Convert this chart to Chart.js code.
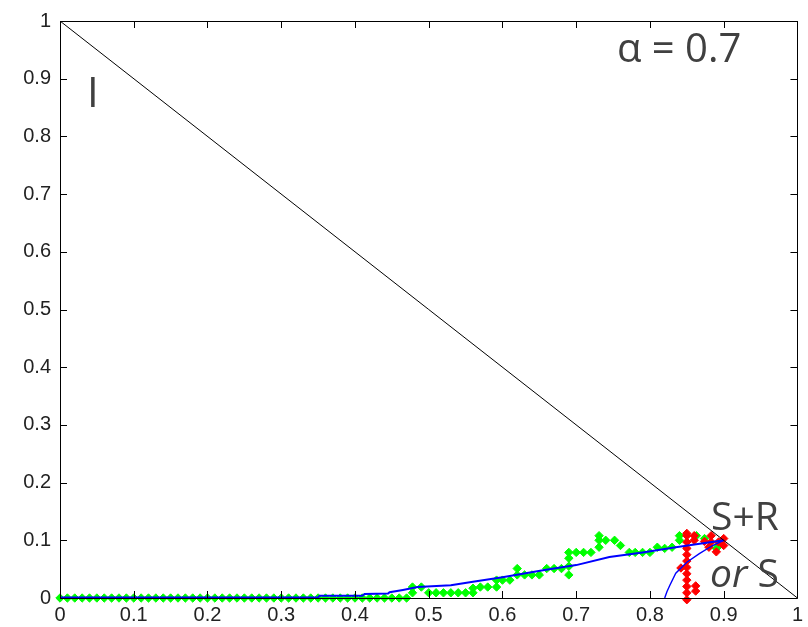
<!DOCTYPE html>
<html>
<head>
<meta charset="utf-8">
<script src="https://cdn.jsdelivr.net/npm/chart.js@4/dist/chart.umd.min.js"></script>
<style>
  html, body { margin: 0; padding: 0; background: #fff; }
  #wrap { position: relative; width: 808px; height: 627px; }
  .ann { position: absolute; font-family: "Open Sans", sans-serif; color: #404040; line-height: 1; white-space: nowrap; }
</style>
</head>
<body>
<div id="wrap">
  <canvas id="c" width="808" height="627"></canvas>
  <div class="ann" style="left:617px; top:27px; font-size:40px;">α = 0.7</div>
  <div class="ann" style="left:87px; top:70px; font-size:42px;">I</div>
  <div class="ann" style="left:711px; top:495px; font-size:39px;">S+R</div>
  <div class="ann" style="left:710px; top:552px; font-size:39px;"><i>or</i> S</div>
</div>
<script>
// ---- tick labels ----
const tickValues = [0, 0.1, 0.2, 0.3, 0.4, 0.5, 0.6, 0.7, 0.8, 0.9, 1];
const tickLabels = ["0", "0.1", "0.2", "0.3", "0.4", "0.5", "0.6", "0.7", "0.8", "0.9", "1"];

// ---- diagonal reference line ----
const diagX = [0, 1];
const diagY = [1, 0];

// ---- green markers ----
const greenX = [0,0.01,0.02,0.03,0.04,0.05,0.06,0.07,0.08,0.09,0.10,0.11,0.12,0.13,0.14,0.15,0.16,0.17,0.18,0.19,
  0.20,0.21,0.22,0.23,0.24,0.25,0.26,0.27,0.28,0.29,0.30,0.31,0.32,0.33,0.34,0.35,0.36,0.37,0.38,0.39,
  0.40,0.41,0.42,0.43,0.44,0.45,0.46,0.47,
  0.478,0.478,0.49,0.50,0.51,0.52,0.53,0.54,0.55,0.56,0.56,0.57,0.58,0.592,0.592,0.60,0.61,
  0.62,0.62,0.63,0.64,0.65,0.66,0.67,0.68,0.69,0.69,0.69,0.69,0.70,0.71,0.72,
  0.731,0.731,0.731,0.74,0.752,0.76,0.772,0.78,0.79,0.80,0.81,0.82,0.83,0.84,0.84,0.863,0.874,0.89,0.894];
const greenY = [0,0,0,0,0,0,0,0,0,0,0,0,0,0,0,0,0,0,0,0,
  0,0,0,0,0,0,0,0,0,0,0,0,0,0,0,0,0,0,0,0,
  0,0,0,0,0,0,0,0,
  0.009,0.019,0.019,0.009,0.009,0.009,0.009,0.009,0.009,0.009,0.017,0.019,0.019,0.019,0.031,0.031,0.031,
  0.04,0.051,0.04,0.04,0.04,0.051,0.051,0.051,0.04,0.055,0.069,0.079,0.079,0.079,0.079,
  0.088,0.1,0.108,0.1,0.1,0.091,0.079,0.079,0.079,0.079,0.088,0.086,0.088,0.1,0.108,0.108,0.103,0.086,0.091];

// ---- red markers ----
const redX = [0.85,0.85,0.85,0.85,0.85,0.85,0.85,0.85,0.85,0.85,0.85,0.85,
  0.842,0.862,0.862,0.86,0.86,0.883,0.883,0.89,0.88,0.90,0.90,0.893,0.874];
const redY = [-0.003,0.009,0.02,0.031,0.042,0.053,0.064,0.075,0.086,0.097,0.108,0.112,
  0.052,0.012,0.021,0.1,0.108,0.108,0.097,0.08,0.088,0.103,0.091,0.097,0.098];

// ---- blue fitted curve ----
const blueX = [0,0.10,0.20,0.30,0.35,0.352,0.41,0.413,0.445,0.447,0.465,0.485,0.53,0.56,0.60,0.655,0.70,0.745,0.79,0.835,0.872,0.90];
const blueY = [0.001,0.001,0.001,0.001,0.001,0.004,0.004,0.007,0.008,0.010,0.014,0.019,0.022,0.028,0.036,0.048,0.057,0.071,0.079,0.088,0.095,0.10];

// ---- blue second branch ----
const blue2X = [0.82,0.823,0.827,0.835,0.85,0.867,0.885,0.90];
const blue2Y = [0,0.011,0.022,0.043,0.062,0.077,0.091,0.10];

const pts = (xs, ys) => xs.map((x, i) => ({ x: x, y: ys[i] }));

const frame = {
  id: 'frame',
  afterDatasetsDraw(chart) {
    const ctx = chart.ctx, a = chart.chartArea;
    const xs = chart.scales.x, ys = chart.scales.y;
    ctx.save();
    ctx.strokeStyle = '#000';
    ctx.lineWidth = 1;
    ctx.beginPath();
    ctx.rect(Math.round(a.left) + 0.5, Math.round(a.top) + 0.5, Math.round(a.right - a.left), Math.round(a.bottom - a.top));
    ctx.stroke();
    const L = 7;
    ctx.beginPath();
    tickValues.forEach(v => {
      const px = Math.round(xs.getPixelForValue(v)) + 0.5;
      ctx.moveTo(px, a.bottom); ctx.lineTo(px, a.bottom - L);
      ctx.moveTo(px, a.top); ctx.lineTo(px, a.top + L);
      const py = Math.round(ys.getPixelForValue(v)) + 0.5;
      ctx.moveTo(a.left, py); ctx.lineTo(a.left + L, py);
      ctx.moveTo(a.right, py); ctx.lineTo(a.right - L, py);
    });
    ctx.stroke();
    ctx.restore();
  }
};

const tickFont = { family: '"Liberation Sans Narrow", "Liberation Sans", sans-serif', size: 20 };

new Chart(document.getElementById('c'), {
  type: 'scatter',
  data: {
    datasets: [
      { label: 'diag', data: pts(diagX, diagY), showLine: true, borderColor: '#000', borderWidth: 1, pointRadius: 0, order: 1 },
      { label: 'blue', data: pts(blueX, blueY), showLine: true, borderColor: '#0000ff', borderWidth: 2, pointRadius: 0, order: 2 },
      { label: 'blue2', data: pts(blue2X, blue2Y), showLine: true, borderColor: '#0000ff', borderWidth: 1.4, pointRadius: 0, order: 3 },
      { label: 'red', data: pts(redX, redY), pointStyle: 'rectRot', pointRadius: 4.2, backgroundColor: '#ff0000', borderColor: '#ff0000', borderWidth: 1, clip: false, order: 4 },
      { label: 'green', data: pts(greenX, greenY), pointStyle: 'rectRot', pointRadius: 4.2, backgroundColor: '#00ff00', borderColor: '#00ff00', borderWidth: 1, clip: false, order: 5 }
    ]
  },
  options: {
    responsive: false,
    animation: false,
    layout: { padding: { top: 17, right: 10, left: 0, bottom: 0 } },
    plugins: { legend: { display: false }, tooltip: { enabled: false } },
    scales: {
      x: {
        type: 'linear', min: 0, max: 1,
        afterBuildTicks(s) { s.ticks = tickValues.map(v => ({ value: v })); },
        afterFit(s) { s.height = 29; },
        grid: { display: false, drawTicks: false },
        border: { display: false },
        ticks: { padding: 5, color: '#222', font: tickFont, maxRotation: 0, autoSkip: false,
          callback: (v, i) => tickLabels[i] }
      },
      y: {
        type: 'linear', min: 0, max: 1,
        afterBuildTicks(s) { s.ticks = tickValues.map(v => ({ value: v })); },
        afterFit(s) { s.width = 60; },
        grid: { display: false, drawTicks: false },
        border: { display: false },
        ticks: { padding: 9, color: '#222', font: tickFont, autoSkip: false,
          callback: (v, i) => tickLabels[i] }
      }
    }
  },
  plugins: [frame]
});
</script>
</body>
</html>
